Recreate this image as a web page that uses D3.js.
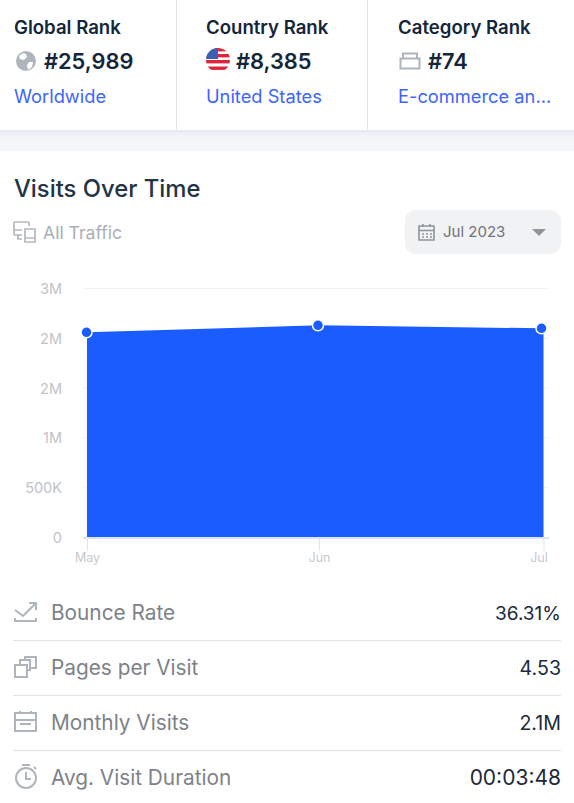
<!DOCTYPE html>
<html><head><meta charset="utf-8">
<script src="https://cdn.jsdelivr.net/npm/d3@7"></script>
<style>
html,body{margin:0;padding:0;background:#fff;overflow:hidden}
svg{display:block}
text{font-family:"Inter","Noto Sans",sans-serif}
</style></head><body>
<svg id="c" width="574" height="803"></svg>
<script>
const months = ["2023-05-01","2023-06-01","2023-07-01"];
const monthLabels = ["May","Jun","Jul"];
const visits = [2060000,2130000,2100000];
const yTicks = [0,500000,1000000,1500000,2000000,2500000];
const yTickLabels = ["0","500K","1M","2M","2M","3M"];
const rankTitles = ["Global Rank","Country Rank","Category Rank"];
const rankValues = ["#25,989","#8,385","#74"];
const rankLinks = ["Worldwide","United States","E-commerce an..."];
const metricNames = ["Bounce Rate","Pages per Visit","Monthly Visits","Avg. Visit Duration"];
const metricValues = ["36.31%","4.53","2.1M","00:03:48"];

const svg = d3.select("#c");
const defs = svg.append("defs");
const g = defs.append("linearGradient").attr("id","sh").attr("x1",0).attr("x2",0).attr("y1",0).attr("y2",1);
g.append("stop").attr("offset",0).attr("stop-color","#e6eaf0");
g.append("stop").attr("offset",1).attr("stop-color","#f4f6fa");

// header band
svg.append("rect").attr("x",0).attr("y",130).attr("width",574).attr("height",8).attr("fill","url(#sh)");
svg.append("rect").attr("x",0).attr("y",138).attr("width",574).attr("height",13).attr("fill","#f4f6fa");
[176.5,367.5].forEach(x=>svg.append("line").attr("x1",x).attr("x2",x).attr("y1",0).attr("y2",130).attr("stroke","#e3e5e8"));

const titleX=[14,206,398], valueX=[44,236,428];
rankTitles.forEach((t,i)=>{
  svg.append("text").attr("x",titleX[i]).attr("y",34).attr("font-size",18.6).attr("font-weight",600).attr("fill","#14263b").text(t);
  svg.append("text").attr("x",valueX[i]).attr("y",69).attr("font-size",21.8).attr("font-weight",600).attr("fill","#14263b").text(rankValues[i]);
  svg.append("text").attr("x",titleX[i]).attr("y",103).attr("font-size",18.3).attr("font-weight",400).attr("fill","#3d64ff").text(rankLinks[i]);
});

// globe icon
svg.append("circle").attr("cx",26).attr("cy",61).attr("r",10).attr("fill","#aeb5bc");
svg.append("path").attr("d","M19 56l4-3 3 1 1 3-3 3-4-1zM29 62l4 0-1 5-4 3-1-5z").attr("fill","#fff");
// flag icon
defs.append("clipPath").attr("id","fc").append("circle").attr("cx",218).attr("cy",60).attr("r",12);
const fg = svg.append("g").attr("clip-path","url(#fc)");
fg.append("rect").attr("x",206).attr("y",48).attr("width",24).attr("height",25).attr("fill","#fff");
[48,54,60,66.5].forEach(y=>fg.append("rect").attr("x",206).attr("y",y).attr("width",24).attr("height",3.4).attr("fill","#e0243c"));
fg.append("rect").attr("x",206).attr("y",48).attr("width",12).attr("height",11).attr("fill","#3a5fb5");
// category icon
svg.append("path").attr("d","M400.5 58.5h19v10h-19zM403 58.5v-5h14v5").attr("fill","none").attr("stroke","#aeb5bc").attr("stroke-width",2);

// section
svg.append("text").attr("x",14).attr("y",197).attr("font-size",23.8).attr("font-weight",500).attr("fill","#233446").text("Visits Over Time");
svg.append("path").attr("d","M29 226v-3a1 1 0 0 0-1-1H15a1 1 0 0 0-1 1v11a1 1 0 0 0 1 1h7M14 230h8M18 235v4h4M25 229h10v13H25zM25 238h10").attr("fill","none").attr("stroke","#b4b9c0").attr("stroke-width",1.7);
svg.append("text").attr("x",43).attr("y",239).attr("font-size",17.6).attr("fill","#a9afb8").text("All Traffic");
svg.append("rect").attr("x",405).attr("y",210).attr("width",156).attr("height",44).attr("rx",11).attr("fill","#f1f2f4");
svg.append("path").attr("d","M419 226h15v14h-15zM419 230.5h15M423 224v3M430 224v3").attr("fill","none").attr("stroke","#8d949c").attr("stroke-width",1.6);
svg.append("path").attr("d","M422 234h2M426 234h2M430 234h2M422 237h2M426 237h2M430 237h2").attr("fill","none").attr("stroke","#8d949c").attr("stroke-width",1.4);
svg.append("text").attr("x",443).attr("y",237).attr("font-size",15).attr("fill","#6e747c").text("Jul 2023");
svg.append("path").attr("d","M532 229h14l-7 7z").attr("fill","#8d949c");

// chart
const x = d3.scaleUtc().domain([new Date(months[0]),new Date(months[2])]).range([87,543.5]);
const y = d3.scaleLinear().domain([0,2500000]).range([537.5,288.5]);
const rows = months.map((m,i)=>({d:new Date(m),v:visits[i]}));

const yAxis = d3.axisLeft(y).tickValues(yTicks).tickSize(0).tickPadding(21).tickFormat((d,i)=>yTickLabels[i]);
const ya = svg.append("g").attr("transform","translate(83,0)").call(yAxis);
ya.select(".domain").remove();
ya.selectAll("text").attr("font-size",14.5).attr("fill","#c0c3c8").attr("dy","0.34em");
const grid = svg.append("g");
grid.selectAll("line").data(yTicks).join("line").attr("x1",83).attr("x2",549).attr("y1",d=>y(d)).attr("y2",d=>y(d)).attr("stroke","#f0f1f3");

const area = d3.area().x(d=>x(d.d)).y0(y(0)).y1(d=>y(d.v));
svg.append("path").datum(rows).attr("d",area).attr("fill","#1a5cff");

const xAxis = d3.axisBottom(x).tickValues(rows.map(r=>r.d)).tickSize(13).tickPadding(2).tickFormat((d,i)=>monthLabels[i]);
const xa = svg.append("g").attr("transform","translate(0,538)").call(xAxis);
xa.select(".domain").remove();
xa.selectAll("line").attr("stroke","#dde3f5");
xa.selectAll("text").attr("font-size",12.5).attr("fill","#c6c9ce");
xa.selectAll("text").filter((d,i)=>i===2).attr("dx",-5);
svg.append("line").attr("x1",83).attr("x2",549).attr("y1",538).attr("y2",538).attr("stroke","#dde3f5").attr("stroke-width",2);

svg.selectAll("circle.pt").data(rows).join("circle").attr("class","pt")
  .attr("cx",(d,i)=>i===2?x(d.d)-2:x(d.d)-(i===0?0.5:1)).attr("cy",d=>y(d.v)).attr("r",5.5)
  .attr("fill","#1a5cff").attr("stroke","#fff").attr("stroke-width",1.5);

// metrics
const rowY=[613,668,723,778];
metricNames.forEach((n,i)=>{
  svg.append("text").attr("x",51).attr("y",rowY[i]+7).attr("font-size",20.8).attr("fill","#7d8288").text(n);
  svg.append("text").attr("x",561).attr("y",rowY[i]+7).attr("text-anchor","end").attr("font-size",i===3?21:(i===0?19:19.6)).attr("fill","#1c2a3a").text(metricValues[i]);
  if(i<3) svg.append("line").attr("x1",13).attr("x2",561).attr("y1",rowY[i]+27.5).attr("y2",rowY[i]+27.5).attr("stroke","#e0e2e5");
});
const ic = svg.append("g").attr("fill","none").attr("stroke","#aeb5bc").attr("stroke-width",2);
ic.append("path").attr("d","M15 610l8 6 12-12M29 603h7v7M15 618v3h21v-3");
ic.append("path").attr("d","M15 665h12v12H15zM20 665v-5h10v10h-3M25 660v-3h11v11h-6");
ic.append("path").attr("d","M15 713h21v18H15zM15 720h21M20 711v3M31 711v3M20 724h11");
ic.append("circle").attr("cx",26).attr("cy",778).attr("r",10);
ic.append("path").attr("d","M26 772v7h5M22 765h8M34 767l2 2");
</script></body></html>
